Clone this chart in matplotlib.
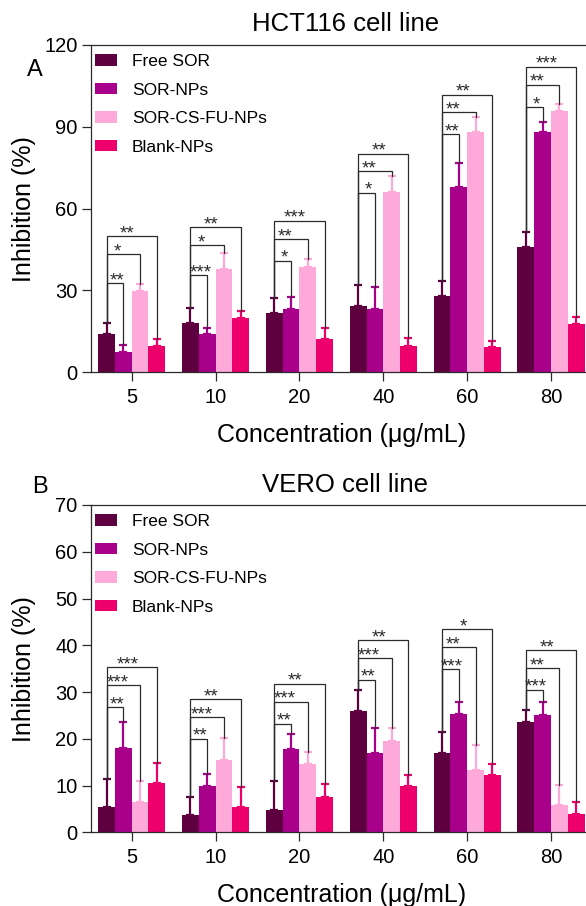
"""
Inhibition bar charts for HCT116 and VERO cell lines with significance brackets.
"""

import matplotlib.pyplot as plt
import numpy as np

plt.rcParams['font.family'] = ['Liberation Sans', 'DejaVu Sans']

CONC = ["5", "10", "20", "40", "60", "80"]
GROUPS = ["Free SOR", "SOR-NPs", "SOR-CS-FU-NPs", "Blank-NPs"]
COLORS = ["#5E0040", "#A9008C", "#FDA9DA", "#EE006C"]

# HCT116 cell line (mean, upper error)
hct_free = [13.9, 17.9, 21.8, 24.4, 27.9, 45.9]
hct_free_err = [4.2, 5.5, 5.6, 7.6, 5.6, 5.7]
hct_np = [7.5, 13.9, 23.2, 23.2, 68.0, 88.1]
hct_np_err = [2.4, 2.5, 4.5, 8.2, 8.6, 3.7]
hct_csfu = [29.8, 37.9, 38.6, 66.1, 88.0, 95.9]
hct_csfu_err = [2.6, 5.7, 2.9, 5.7, 5.6, 2.5]
hct_blank = [9.6, 19.8, 12.1, 9.7, 9.4, 17.7]
hct_blank_err = [2.5, 2.8, 4.0, 2.7, 2.1, 2.7]
hct_brk = [[32.6, 43.4, 49.8], [35.7, 46.5, 53.3], [40.9, 48.8, 55.6],
           [65.8, 73.7, 80.2], [87.2, 95.4, 101.8], [97.3, 105.4, 112.0]]
hct_stars = [["**", "*", "**"], ["***", "*", "**"], ["*", "**", "***"],
             ["*", "**", "**"], ["**", "**", "**"], ["*", "**", "***"]]

# VERO cell line
vero_free = [5.5, 3.6, 4.8, 25.9, 16.9, 23.5]
vero_free_err = [5.9, 4.0, 6.2, 4.5, 4.5, 2.7]
vero_np = [18.0, 10.0, 17.8, 16.9, 25.3, 25.1]
vero_np_err = [5.6, 2.5, 3.3, 5.5, 2.6, 2.7]
vero_csfu = [6.4, 15.5, 14.6, 19.6, 13.4, 5.8]
vero_csfu_err = [4.5, 4.6, 2.5, 2.7, 5.3, 4.3]
vero_blank = [10.6, 5.5, 7.6, 9.8, 12.3, 3.9]
vero_blank_err = [4.3, 4.1, 2.7, 2.5, 2.3, 2.6]
vero_brk = [[26.7, 31.4, 35.3], [20.0, 24.6, 28.5], [23.2, 27.9, 31.8],
            [32.6, 37.3, 41.1], [34.9, 39.6, 43.5], [30.5, 35.1, 38.9]]
vero_stars = [["**", "***", "***"], ["**", "***", "**"], ["**", "***", "**"],
              ["**", "***", "**"], ["***", "**", "*"], ["***", "**", "**"]]

W = 586
H = 906
BAR_W = 0.2
LINE_C = "#2b2b2b"


def draw_panel(ax, means, errs, brk, stars, ymax, ystep):
    x = np.arange(len(CONC))
    for k, (m, e) in enumerate(zip(means, errs)):
        xs = x + (k - 1.5) * BAR_W
        ax.bar(xs, m, width=BAR_W, color=COLORS[k], label=GROUPS[k], zorder=2)
        ax.errorbar(xs, m, yerr=[np.zeros(len(m)), e], fmt="none",
                    ecolor=COLORS[k], elinewidth=1.6, capsize=3.2,
                    capthick=1.6, zorder=3)

    # significance brackets: Free SOR against each other group
    offs = [0.12, 0.13, 0.25]
    for i in range(len(CONC)):
        xl = x[i] - 1.5 * BAR_W
        base = means[0][i] + errs[0][i]
        for k in range(3):
            j = k + 1
            xr = x[i] + (j - 1.5) * BAR_W
            tgt = means[j][i] + errs[j][i]
            top = brk[i][k]
            ax.plot([xl, xl, xr, xr], [base, top, top, tgt], color=LINE_C,
                    lw=0.9, zorder=4, solid_joinstyle="miter")
            ax.annotate(stars[i][k], (xl + offs[k], top), xytext=(0, -1.5),
                        textcoords="offset points", ha="center",
                        va="baseline", fontsize=13.5, color=LINE_C)

    ax.set_xlim(-0.489, len(CONC) - 1 + 0.489)
    ax.set_ylim(0, ymax)
    ax.set_yticks(np.arange(0, ymax + 1, ystep))
    ax.set_xticks(x)
    ax.set_xticklabels(CONC)
    ax.tick_params(axis="both", length=6.5, width=0.9, color=LINE_C,
                   labelsize=14.5, pad=3)
    ax.tick_params(axis="x", pad=5)
    for s in ["left", "bottom", "top"]:
        ax.spines[s].set_linewidth(0.9)
        ax.spines[s].set_color(LINE_C)
    ax.spines["right"].set_visible(False)

    ax.set_ylabel("Inhibition (%)", fontsize=18)
    ax.yaxis.set_label_coords(-0.11, 0.5)
    ax.set_xlabel("Concentration (\u03bcg/mL)", fontsize=18, labelpad=11)

    ax.legend(loc="upper left", bbox_to_anchor=(0.008, 0.972), frameon=False,
              fontsize=12.5, handlelength=1.3, handleheight=0.65,
              handletextpad=0.85, labelspacing=0.78, borderpad=0,
              borderaxespad=0)


fig = plt.figure(figsize=(W / 100, H / 100), dpi=100)

left = 90.7 / W
width = (592 - 90.7) / W
height = (372.3 - 45) / H

ax1 = fig.add_axes([left, 1 - 372.3 / H, width, height])
draw_panel(ax1, [hct_free, hct_np, hct_csfu, hct_blank],
           [hct_free_err, hct_np_err, hct_csfu_err, hct_blank_err],
           hct_brk, hct_stars, 120, 30)

ax2 = fig.add_axes([left, 1 - 832.3 / H, width, height])
draw_panel(ax2, [vero_free, vero_np, vero_csfu, vero_blank],
           [vero_free_err, vero_np_err, vero_csfu_err, vero_blank_err],
           vero_brk, vero_stars, 70, 10)

fig.text(346 / W, 1 - 24 / H, "HCT116 cell line", fontsize=18.5,
         ha="center", va="center")
fig.text(345 / W, 1 - 485 / H, "VERO cell line", fontsize=18.5,
         ha="center", va="center")
fig.text(35 / W, 1 - 70 / H, "A", fontsize=17, ha="center", va="center")
fig.text(40 / W, 1 - 487 / H, "B", fontsize=17, ha="center", va="center")

fig.savefig("out.png", dpi=100)
